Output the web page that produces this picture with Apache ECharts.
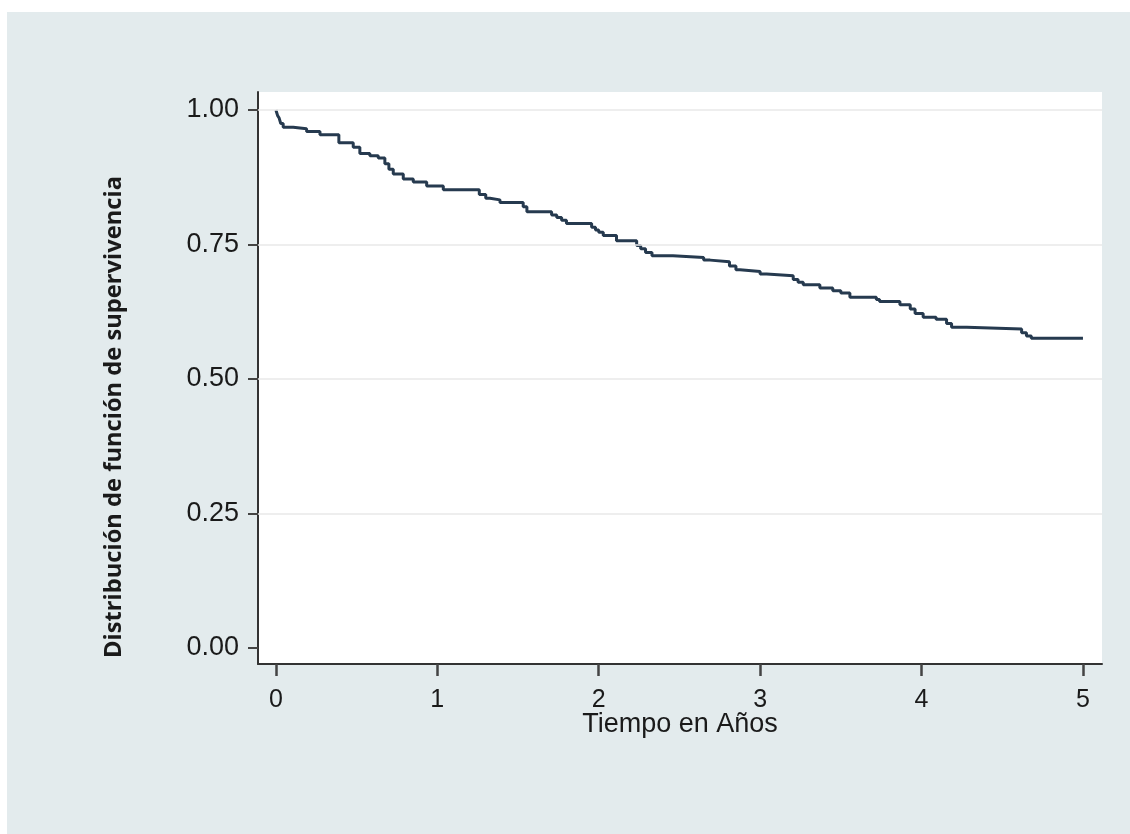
<!DOCTYPE html>
<html>
<head>
<meta charset="utf-8">
<script src="https://cdn.jsdelivr.net/npm/echarts@6/dist/echarts.min.js"></script>
<style>
html,body{margin:0;padding:0;background:#ffffff;}
#bg{position:absolute;left:7px;top:12px;right:0;bottom:0;background:#e3ebed;}
#chart{position:absolute;left:0;top:0;width:1130px;height:834px;}
</style>
</head>
<body>
<div id="bg"></div>
<div id="chart"></div>
<script>
// Kaplan-Meier step estimate: time (years) at which survival drops to the value
const times = [0, 0.01, 0.02, 0.03, 0.045, 0.107, 0.19, 0.273, 0.39, 0.479, 0.52, 0.582, 0.634,
  0.675, 0.70, 0.727, 0.789, 0.851, 0.934, 1.037, 1.26, 1.30, 1.326, 1.388, 1.532, 1.555,
  1.708, 1.74, 1.77, 1.80, 1.956, 1.98, 2.0, 2.028, 2.11, 2.235, 2.26, 2.29, 2.33, 2.46,
  2.65, 2.69, 2.81, 2.85, 2.875, 3.0, 3.04, 3.205, 3.235, 3.267, 3.37, 3.45, 3.50, 3.556,
  3.72, 3.74, 3.866, 3.93, 3.96, 4.01, 4.09, 4.155, 4.186, 4.28, 4.62, 4.65, 4.68, 5.0];
const survival = [1.00, 0.99, 0.985, 0.975, 0.968, 0.965, 0.960, 0.954, 0.939, 0.931, 0.919, 0.915, 0.911,
  0.900, 0.890, 0.881, 0.872, 0.866, 0.859, 0.852, 0.843, 0.836, 0.833, 0.828, 0.820, 0.811,
  0.805, 0.800, 0.795, 0.789, 0.782, 0.777, 0.773, 0.767, 0.757, 0.748, 0.742, 0.735, 0.729, 0.726,
  0.721, 0.718, 0.710, 0.703, 0.700, 0.695, 0.692, 0.685, 0.680, 0.675, 0.669, 0.664, 0.660, 0.652,
  0.648, 0.644, 0.638, 0.630, 0.622, 0.615, 0.611, 0.603, 0.596, 0.593, 0.586, 0.580, 0.576, 0.576];
const xTicks = [0, 1, 2, 3, 4, 5];
const yTicks = [0, 0.25, 0.5, 0.75, 1.0];
const yGridLines = [0.25, 0.5, 0.75, 1.0];
const xTitle = 'Tiempo en Años';
const yTitle = 'Distribución de función de supervivencia';

const chart = echarts.init(document.getElementById('chart'), null, {renderer: 'canvas'});
const lineData = times.map((t, i) => [t, survival[i]]);
chart.setOption({
  backgroundColor: 'transparent',
  animation: false,
  grid: {left: 258, right: 28, top: 92, bottom: 170, show: true, backgroundColor: '#ffffff', borderWidth: 0},
  xAxis: {
    type: 'value', min: -0.111, max: 5.118,
    name: xTitle, nameLocation: 'middle', nameGap: 47, nameMoveOverlap: false,
    nameTextStyle: {fontFamily: 'Liberation Sans', fontSize: 27, color: '#1a1a1a'},
    axisLine: {show: true, onZero: false, lineStyle: {color: '#333333', width: 2}},
    axisTick: {show: true, length: 12, customValues: xTicks, lineStyle: {color: '#444', width: 2.5}},
    axisLabel: {customValues: xTicks, margin: 24, fontFamily: 'Liberation Sans', fontSize: 25, color: '#1a1a1a'},
    splitLine: {show: false}
  },
  yAxis: {
    type: 'value', min: -0.0297, max: 1.0335,
    axisLine: {show: true, onZero: false, lineStyle: {color: '#333333', width: 2}},
    axisTick: {show: true, length: 10, customValues: yTicks, lineStyle: {color: '#444', width: 2}},
    axisLabel: {customValues: yTicks, margin: 19, fontFamily: 'Liberation Sans', fontSize: 27, color: '#1a1a1a',
      formatter: v => v.toFixed(2)},
    splitLine: {show: false}
  },
  graphic: [{
    type: 'text', left: 102, top: 176, rotation: Math.PI / 2,
    style: {text: yTitle, fontFamily: 'Open Sans', fontWeight: 'bold', fontSize: 23.7, fill: '#1a1a1a'}
  }],
  series: [{
    type: 'line', step: 'end', data: lineData, showSymbol: false,
    lineStyle: {color: '#263a4f', width: 3},
    markLine: {
      silent: true, symbol: 'none', label: {show: false},
      lineStyle: {color: '#e8e8e8', width: 1.5, type: 'solid'},
      data: yGridLines.map(v => ({yAxis: v}))
    },
    z: 3
  }]
});
</script>
</body>
</html>
